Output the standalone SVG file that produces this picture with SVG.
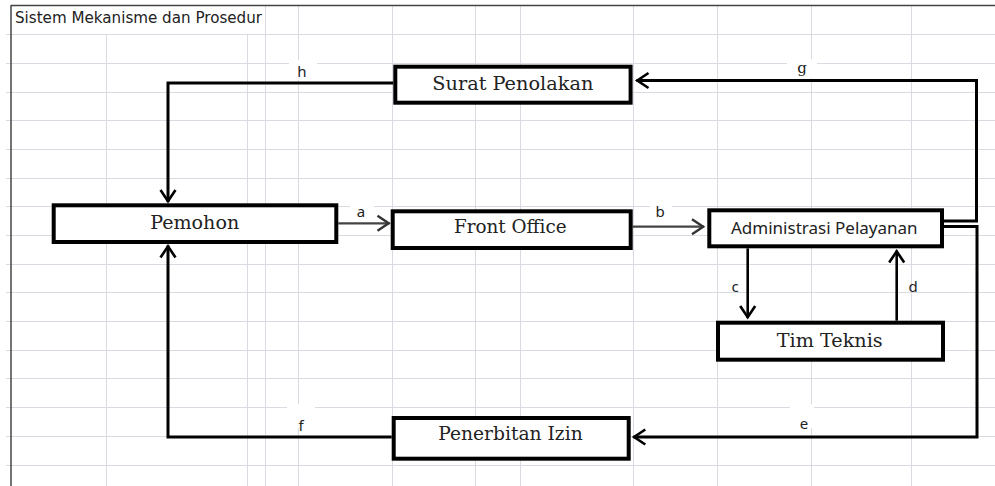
<svg xmlns="http://www.w3.org/2000/svg" width="995" height="486" viewBox="0 0 995 486">
<style>
.grid line{stroke:#d8dbe2;stroke-width:1;shape-rendering:crispEdges}
.border{stroke:#444;stroke-width:1.5;fill:none}
.box{fill:#fff;stroke:#000;stroke-width:4}
.serif{font-family:"DejaVu Serif","Liberation Serif",serif;font-size:18.5px;fill:#222;text-anchor:middle}
.sans{font-family:"Noto Sans","DejaVu Sans",sans-serif;font-size:17px;fill:#222;text-anchor:middle}
.conn{fill:none;stroke:#000;stroke-width:3}
.thin{fill:none;stroke:#444;stroke-width:2.2}
.mid{fill:none;stroke:#000;stroke-width:2.6}
.lbl{font-family:"Noto Sans","DejaVu Sans",sans-serif;font-size:15px;fill:#222;text-anchor:middle}
.lblbg{fill:#fff}
.title{font-family:"DejaVu Sans","Liberation Sans",sans-serif;font-size:15px;fill:#222}
</style>
<defs>
<marker id="ah" markerUnits="userSpaceOnUse" markerWidth="24" markerHeight="24" viewBox="-16 -12 24 24" refX="0" refY="0" orient="auto" overflow="visible">
<path d="M-12,-7.5 L-0.8,0 L-12,7.5" fill="none" stroke="#000" stroke-width="2.6"/>
</marker>
<marker id="ahg" markerUnits="userSpaceOnUse" markerWidth="24" markerHeight="24" viewBox="-16 -12 24 24" refX="0" refY="0" orient="auto" overflow="visible">
<path d="M-12,-7.5 L-0.8,0 L-12,7.5" fill="none" stroke="#333" stroke-width="2.4"/>
</marker>
</defs>
<rect x="0" y="0" width="995" height="486" fill="#fff"/>
<g class="grid">
<line x1="6" y1="34.5" x2="995" y2="34.5"/>
<line x1="6" y1="63.5" x2="995" y2="63.5"/>
<line x1="6" y1="92.5" x2="995" y2="92.5"/>
<line x1="6" y1="120.5" x2="995" y2="120.5"/>
<line x1="6" y1="149.5" x2="995" y2="149.5"/>
<line x1="6" y1="178.5" x2="995" y2="178.5"/>
<line x1="6" y1="206.5" x2="995" y2="206.5"/>
<line x1="6" y1="235.5" x2="995" y2="235.5"/>
<line x1="6" y1="264.5" x2="995" y2="264.5"/>
<line x1="6" y1="292.5" x2="995" y2="292.5"/>
<line x1="6" y1="321.5" x2="995" y2="321.5"/>
<line x1="6" y1="350.5" x2="995" y2="350.5"/>
<line x1="6" y1="378.5" x2="995" y2="378.5"/>
<line x1="6" y1="407.5" x2="995" y2="407.5"/>
<line x1="6" y1="436.5" x2="995" y2="436.5"/>
<line x1="6" y1="465.5" x2="995" y2="465.5"/>
<line x1="106.5" y1="34" x2="106.5" y2="486"/>
<line x1="247.5" y1="34" x2="247.5" y2="486"/>
<line x1="265.5" y1="6" x2="265.5" y2="486"/>
<line x1="298.5" y1="6" x2="298.5" y2="486"/>
<line x1="392.5" y1="6" x2="392.5" y2="486"/>
<line x1="475.5" y1="6" x2="475.5" y2="486"/>
<line x1="520.5" y1="6" x2="520.5" y2="486"/>
<line x1="633.5" y1="6" x2="633.5" y2="486"/>
<line x1="717.5" y1="6" x2="717.5" y2="486"/>
<line x1="811.5" y1="6" x2="811.5" y2="486"/>
<line x1="911.5" y1="6" x2="911.5" y2="486"/>
</g>
<line class="border" x1="11" y1="5.5" x2="995" y2="5.5"/>
<line class="border" x1="11" y1="5" x2="11" y2="486"/>
<text class="title" x="15" y="23" textLength="247" lengthAdjust="spacingAndGlyphs">Sistem Mekanisme dan Prosedur</text>
<g id="connectors">
<rect class="lblbg" x="289" y="60" width="28" height="20"/>
<rect class="lblbg" x="787" y="59" width="30" height="19"/>
<rect class="lblbg" x="287" y="404" width="28" height="24"/>
<rect class="lblbg" x="790" y="404" width="24" height="24"/>
<rect class="lblbg" x="350" y="204" width="24" height="14"/>
<rect class="lblbg" x="650" y="204" width="22" height="14"/>
<path class="conn" d="M393.3,83 H168 V202" marker-end="url(#ah)"/>
<path class="conn" d="M391.7,437 H168 V245.5" marker-end="url(#ah)"/>
<path class="conn" d="M944,221 H976.5 V80.5 H636.5" marker-end="url(#ah)"/>
<path class="conn" d="M944,226.5 H977 V437 H633.3" marker-end="url(#ah)"/>
<path class="thin" d="M338.3,223.3 H389.5" marker-end="url(#ahg)"/>
<path class="thin" d="M632.7,226.7 H704" marker-end="url(#ahg)"/>
<path class="mid" d="M747.7,248.3 V318" marker-end="url(#ah)"/>
<path class="mid" d="M896.7,320.7 V250.5" marker-end="url(#ah)"/>
<text class="lbl" x="302" y="77">h</text>
<text class="lbl" x="802" y="73" style="font-family:'DejaVu Serif','Liberation Serif',serif">g</text>
<text class="lbl" x="361" y="216.5">a</text>
<text class="lbl" x="660" y="216.5">b</text>
<text class="lbl" x="735" y="291.5">c</text>
<text class="lbl" x="913" y="291.5">d</text>
<text class="lbl" x="301" y="430.5">f</text>
<text class="lbl" x="804" y="428.5">e</text>
</g>
<g id="node-pemohon">
<rect class="box" x="53.7" y="205.3" width="282.6" height="36.7"/>
<text class="serif" x="194.7" y="229.3" textLength="89" lengthAdjust="spacingAndGlyphs">Pemohon</text>
</g>
<g id="node-front-office">
<rect class="box" x="392.7" y="211.3" width="238" height="36.7"/>
<text class="serif" x="510.3" y="233.3" textLength="112.7" lengthAdjust="spacingAndGlyphs">Front Office</text>
</g>
<g id="node-administrasi">
<rect class="box" x="709.3" y="210.3" width="232.7" height="36"/>
<text class="sans" x="824.3" y="234" textLength="186.7" lengthAdjust="spacingAndGlyphs">Administrasi Pelayanan</text>
</g>
<g id="node-tim-teknis">
<rect class="box" x="718" y="322.7" width="225" height="37"/>
<text class="serif" x="829.7" y="346.7" textLength="106" lengthAdjust="spacingAndGlyphs">Tim Teknis</text>
</g>
<g id="node-surat-penolakan">
<rect class="box" x="395.3" y="66.7" width="235.3" height="36"/>
<text class="serif" x="512.8" y="90" textLength="161" lengthAdjust="spacingAndGlyphs">Surat Penolakan</text>
</g>
<g id="node-penerbitan-izin">
<rect class="box" x="393.7" y="418" width="235" height="40.7"/>
<text class="serif" x="510.5" y="440" textLength="144.4" lengthAdjust="spacingAndGlyphs">Penerbitan Izin</text>
</g>
</svg>
